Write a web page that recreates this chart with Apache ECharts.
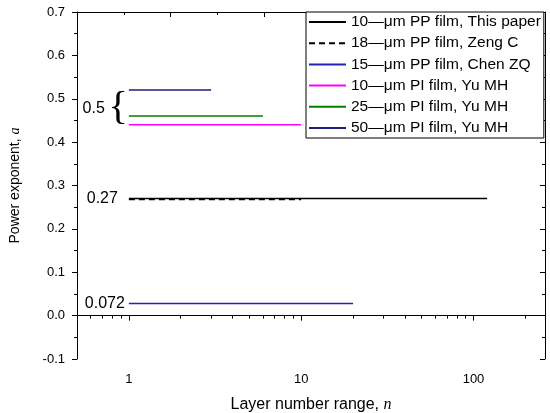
<!DOCTYPE html>
<html>
<head>
<meta charset="utf-8">
<script src="https://cdn.jsdelivr.net/npm/echarts@6/dist/echarts.min.js"></script>
<style>
  html, body { margin: 0; padding: 0; background: #fff; }
  #chart { width: 550px; height: 413px; }
</style>
</head>
<body>
<div id="chart"></div>
<script>
// film series
const seriesNames = [
  '10\u2014\u03bcm PP film, This paper',
  '18\u2014\u03bcm PP film, Zeng C',
  '15\u2014\u03bcm PP film, Chen ZQ',
  '10\u2014\u03bcm PI film, Yu MH',
  '25\u2014\u03bcm PI film, Yu MH',
  '50\u2014\u03bcm PI film, Yu MH'
]
const layerStart = [1, 1, 1, 1, 1, 1]
const layerEnd = [120, 10, 20, 10, 6, 3]
const exponents = [0.27, 0.268, 0.028, 0.44, 0.46, 0.52]
const colors = ['#000000', '#000000', '#2323b4', '#ff00ff', '#008000', '#1c1c7e']
const lineTypes = ['solid', [6, 4], 'solid', 'solid', 'solid', 'solid']

// value labels at the left end of some lines
const valueLabels = ['0.27', '', '0.072', '', '', '']
const labelGaps = [11, 0, 4, 0, 0, 0]
const piGroupLabel = '0.5'
const piGroupCenter = [1, 0.478]

// axis ticks
const xMajorTicks = [1, 10, 100]
const xMinorTicks = [0.6, 0.7, 0.8, 0.9, 2, 3, 4, 5, 6, 7, 8, 9, 20, 30, 40, 50, 60, 70, 80, 90, 200]
const xRange = [0.5, 260]
const yRange = [-0.1, 0.7]

const chart = echarts.init(document.getElementById('chart'))

const black = '#000'
const series = seriesNames.map((name, i) => {
  const s = {
    name: name,
    type: 'line',
    xAxisIndex: 0,
    yAxisIndex: 0,
    symbol: 'circle',
    symbolSize: 0,
    showSymbol: true,
    silent: true,
    color: colors[i],
    lineStyle: { color: colors[i], width: 1.5, type: lineTypes[i] },
    data: [
      {
        value: [layerStart[i], exponents[i]],
        label: valueLabels[i] ? {
          show: true, position: 'left', distance: labelGaps[i],
          formatter: valueLabels[i], color: black, fontSize: 16
        } : { show: false }
      },
      [layerEnd[i], exponents[i]]
    ],
    z: i === 1 ? 3 : 2
  }
  if (i === 4) {
    s.markPoint = {
      symbol: 'circle',
      symbolSize: 0,
      silent: true,
      data: [{ coord: piGroupCenter }],
      label: {
        show: true,
        position: 'left',
        distance: 1,
        formatter: '{num|' + piGroupLabel + '} {brace|{}',
        rich: {
          num: { fontSize: 16, color: black, fontFamily: 'Liberation Sans', verticalAlign: 'middle' },
          brace: { fontSize: 41, color: black, fontFamily: 'Liberation Serif', verticalAlign: 'middle' }
        }
      }
    }
  }
  return s
})

chart.setOption({
  animation: false,
  backgroundColor: '#fff',
  textStyle: { fontFamily: 'Liberation Sans', color: black },
  grid: { left: 77, right: 5, top: 12, bottom: 54, containLabel: false, outerBoundsMode: 'none' },
  legend: {
    data: seriesNames,
    orient: 'vertical',
    left: 306,
    top: 12,
    itemWidth: 37,
    itemHeight: 14,
    itemGap: 5.2,
    padding: [2, 3, 2, 2],
    borderColor: black,
    borderWidth: 1,
    borderRadius: 0,
    backgroundColor: '#fff',
    selectedMode: false,
    itemStyle: { opacity: 0 },
    textStyle: { fontSize: 15.5, color: black, fontFamily: 'Liberation Sans' }
  },
  xAxis: [
    {
      type: 'log',
      min: xRange[0],
      max: xRange[1],
      position: 'bottom',
      name: 'Layer number range, {i|n}',
      nameLocation: 'middle',
      nameGap: 38,
      nameTextStyle: {
        fontSize: 16, color: black,
        rich: { i: { fontSize: 16, fontStyle: 'italic', fontFamily: 'Liberation Serif', color: black } }
      },
      axisLine: { lineStyle: { color: black, width: 1 } },
      axisTick: { show: true, inside: false, length: 5, customValues: xMajorTicks, lineStyle: { color: black } },
      axisLabel: { customValues: xMajorTicks, fontSize: 13, color: black, margin: 14, formatter: v => String(v) },
      splitLine: { show: false }
    },
    {
      type: 'log',
      min: xRange[0],
      max: xRange[1],
      position: 'bottom',
      axisLine: { show: false },
      axisTick: { show: true, inside: false, length: 3, customValues: xMinorTicks, lineStyle: { color: black } },
      axisLabel: { show: false },
      splitLine: { show: false }
    },
    {
      type: 'value',
      min: 0,
      max: 10,
      interval: 2,
      position: 'top',
      axisLine: { show: true, lineStyle: { color: black, width: 1 } },
      axisTick: { show: true, inside: true, length: 5, lineStyle: { color: black } },
      minorTick: { show: true, splitNumber: 2, length: 3, lineStyle: { color: black } },
      axisLabel: { show: false },
      splitLine: { show: false }
    }
  ],
  yAxis: [
    {
      type: 'value',
      min: yRange[0],
      max: yRange[1],
      interval: 0.1,
      position: 'left',
      name: 'Power exponent, {i|a}',
      nameLocation: 'middle',
      nameGap: 55,
      nameTextStyle: {
        fontSize: 14, color: black,
        rich: { i: { fontSize: 14, fontStyle: 'italic', fontFamily: 'Liberation Serif', color: black } }
      },
      axisLine: { show: true, lineStyle: { color: black, width: 1 } },
      axisTick: { show: true, inside: false, length: 5, lineStyle: { color: black } },
      minorTick: { show: true, splitNumber: 2, length: 3, lineStyle: { color: black } },
      axisLabel: { fontSize: 13, color: black, margin: 12, formatter: v => v.toFixed(1) },
      splitLine: { show: false }
    },
    {
      type: 'value',
      min: yRange[0],
      max: yRange[1],
      interval: 0.1,
      position: 'right',
      axisLine: { show: true, lineStyle: { color: black, width: 1 } },
      axisTick: { show: true, inside: true, length: 5, lineStyle: { color: black } },
      minorTick: { show: true, splitNumber: 2, length: 3, lineStyle: { color: black } },
      axisLabel: { show: false },
      splitLine: { show: false }
    }
  ],
  series: series
})
</script>
</body>
</html>
